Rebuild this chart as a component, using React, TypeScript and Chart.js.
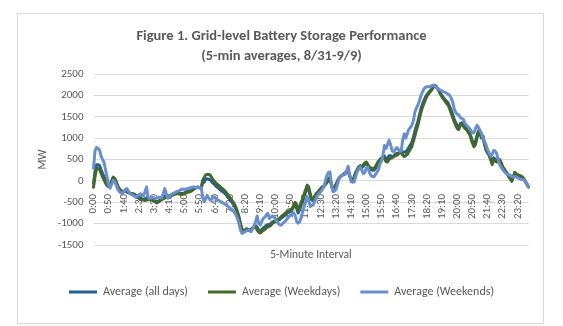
import { useEffect, useRef } from 'react';
import { Chart, registerables } from 'chart.js';

Chart.register(...registerables);

// ---- data ----
const chartTitle = ['Figure 1. Grid-level Battery Storage Performance', '(5-min averages, 8/31-9/9)'];
const xAxisTitle = '5-Minute Interval';
const yAxisTitle = 'MW';
const seriesNames = ['Average (all days)', 'Average (Weekdays)', 'Average (Weekends)'];

// 288 five-minute intervals, 0:00 ... 23:55
const intervals: string[] = Array.from({ length: 288 }, (_, i) =>
  `${Math.floor(i / 12)}:${String((i % 12) * 5).padStart(2, '0')}`
);
const labelEvery = 10; // a tick label every 50 minutes

const yMin = -1500;
const yMax = 2500;
const yStep = 500;

const allDays = [
  -60, 220, 380, 380, 360, 260, 170, 100, 0, -70,
  -130, -110, -20, 70, 40, -40, -140, -190, -230, -250,
  -250, -230, -240, -270, -290, -300, -310, -320, -350, -380,
  -390, -400, -420, -430, -420, -390, -430, -430, -430, -450,
  -460, -480, -490, -470, -450, -430, -400, -360, -370, -380,
  -360, -340, -320, -310, -300, -290, -290, -290, -300, -290,
  -280, -260, -250, -240, -230, -210, -190, -170, -150, -150,
  -160, -160, -60, -30, 30, 50, 40, 20, -20, -60,
  -90, -130, -160, -190, -220, -250, -270, -310, -350, -390,
  -440, -480, -530, -590, -660, -750, -880, -1030, -1140, -1180,
  -1160, -1130, -1140, -1160, -1140, -1100, -1080, -1050, -1080, -1160,
  -1180, -1140, -1100, -1080, -1040, -1020, -1020, -1000, -960, -950,
  -940, -930, -920, -900, -870, -840, -810, -780, -750, -730,
  -700, -680, -610, -560, -640, -750, -670, -570, -480, -360,
  -260, -160, -200, -360, -450, -460, -380, -320, -270, -230,
  -190, -150, -120, -70, -10, 40, 90, -100, -210, -170,
  -100, -20, 60, 100, 130, 150, 180, 220, 240, 130,
  10, -20, 80, 180, 250, 320, 350, 310, 340, 380,
  410, 370, 300, 270, 250, 250, 290, 360, 420, 480,
  520, 570, 580, 510, 520, 590, 590, 570, 580, 620,
  640, 650, 680, 670, 670, 680, 670, 720, 780, 840,
  900, 1020, 1160, 1280, 1390, 1530, 1680, 1790, 1880, 1960,
  2020, 2060, 2110, 2140, 2190, 2230, 2210, 2160, 2110, 2040,
  1990, 1940, 1900, 1860, 1820, 1740, 1650, 1550, 1440, 1360,
  1290, 1270, 1340, 1360, 1310, 1250, 1220, 1170, 1130, 1040,
  930, 870, 920, 1060, 1170, 1120, 1020, 1040, 860, 740,
  670, 610, 520, 430, 540, 510, 480, 470, 480, 400,
  320, 270, 210, 170, 110, 60, 10, 100, 180, 150,
  130, 120, 100, 80, 40, -20, -80, -140,
];

const weekdays = [
  -150, 100, 280, 290, 270, 180, 90, 20, -60, -110,
  -140, -100, 0, 90, 60, -20, -120, -180, -220, -240,
  -250, -240, -260, -280, -290, -300, -300, -310, -340, -380,
  -410, -430, -440, -450, -460, -450, -440, -430, -440, -460,
  -480, -500, -510, -490, -460, -440, -420, -400, -390, -370,
  -360, -350, -330, -320, -310, -300, -300, -310, -320, -310,
  -300, -280, -270, -260, -250, -230, -200, -170, -150, -150,
  -160, -160, 10, 80, 140, 150, 150, 135, 80, 20,
  -20, -60, -90, -120, -150, -180, -210, -250, -290, -340,
  -390, -440, -490, -550, -620, -720, -850, -1000, -1120, -1170,
  -1150, -1120, -1140, -1160, -1130, -1100, -1090, -1080, -1150, -1200,
  -1220, -1190, -1160, -1140, -1100, -1080, -1060, -1040, -1000, -970,
  -950, -920, -900, -870, -830, -800, -770, -740, -720, -700,
  -680, -650, -580, -500, -560, -690, -600, -500, -420, -300,
  -200, -100, -140, -300, -420, -440, -350, -300, -260, -220,
  -170, -140, -120, -90, -40, 0, 60, -100, -200, -150,
  -80, 0, 60, 100, 130, 150, 190, 210, 220, 120,
  20, -20, 100, 200, 260, 330, 350, 330, 380, 420,
  440, 380, 330, 300, 290, 290, 330, 400, 460, 500,
  540, 560, 520, 450, 440, 500, 530, 540, 560, 590,
  600, 620, 670, 660, 600, 570, 590, 620, 680, 740,
  800, 920, 1050, 1180, 1300, 1450, 1600, 1720, 1810, 1900,
  1980, 2030, 2080, 2120, 2180, 2230, 2210, 2160, 2100, 2020,
  1960, 1910, 1860, 1810, 1770, 1680, 1580, 1480, 1380, 1300,
  1220, 1200, 1300, 1330, 1280, 1230, 1200, 1150, 1100, 1000,
  880, 800, 850, 1000, 1150, 1100, 1000, 1050, 850, 720,
  650, 600, 500, 380, 500, 460, 440, 460, 500, 420,
  330, 280, 220, 170, 100, 40, -10, 100, 200, 160,
  140, 130, 110, 90, 40, -20, -80, -140,
];

const weekends = [
  300, 700, 780, 760, 720, 580, 500, 430, 250, 80,
  -100, -170, -80, 10, -20, -100, -200, -250, -280, -300,
  -250, -200, -180, -240, -300, -320, -340, -360, -380, -360,
  -320, -300, -320, -350, -250, -140, -380, -410, -400, -390,
  -400, -410, -400, -380, -390, -400, -300, -180, -300, -400,
  -360, -320, -300, -290, -270, -250, -240, -220, -200, -190,
  -200, -190, -180, -170, -160, -150, -140, -150, -160, -160,
  -150, -160, -350, -490, -420, -340, -400, -450, -420, -380,
  -380, -420, -450, -460, -490, -510, -530, -550, -580, -600,
  -640, -660, -690, -740, -800, -880, -1000, -1150, -1230, -1210,
  -1190, -1170, -1150, -1170, -1190, -1120, -1040, -950, -820, -1000,
  -1030, -950, -880, -850, -800, -760, -880, -850, -820, -850,
  -880, -950, -1000, -1030, -1030, -990, -960, -920, -880, -840,
  -800, -780, -750, -800, -950, -990, -960, -850, -720, -600,
  -500, -380, -450, -600, -580, -560, -480, -400, -330, -290,
  -250, -200, -140, 0, 130, 200, 210, -100, -250, -240,
  -200, -80, 50, 100, 130, 140, 150, 250, 340, 150,
  -20, -30, -20, 100, 210, 280, 330, 250, 170, 200,
  300, 320, 200, 130, 100, 94, 150, 200, 260, 400,
  460, 600, 830, 760, 850, 950, 850, 700, 680, 720,
  780, 750, 700, 700, 950, 1100, 1000, 1100, 1200, 1240,
  1300, 1400, 1600, 1700, 1770, 1870, 1990, 2080, 2150, 2190,
  2200, 2200, 2210, 2220, 2240, 2220, 2190, 2160, 2140, 2120,
  2100, 2083, 2070, 2050, 2030, 2000, 1930, 1850, 1680, 1600,
  1560, 1540, 1480, 1460, 1440, 1350, 1310, 1270, 1230, 1180,
  1120, 1130, 1220, 1300, 1250, 1180, 1110, 1000, 920, 840,
  730, 650, 580, 620, 710, 700, 640, 500, 380, 320,
  260, 220, 180, 160, 140, 130, 100, 90, 100, 90,
  70, 55, 40, 30, 20, -20, -70, -140,
];

const seriesColors = ['#255E91', '#43682B', '#698ED0'];

export default function App() {
  const canvasRef = useRef<HTMLCanvasElement | null>(null);

  useEffect(() => {
    const canvas = canvasRef.current;
    if (!canvas) return;
    const family = 'Carlito, Lato, "Liberation Sans", sans-serif';
    const textColor = '#595959';

    const chart = new Chart(canvas, {
      type: 'line',
      data: {
        labels: intervals,
        datasets: [
          { label: seriesNames[0], data: allDays, borderColor: seriesColors[0], backgroundColor: seriesColors[0], order: 3 },
          { label: seriesNames[1], data: weekdays, borderColor: seriesColors[1], backgroundColor: seriesColors[1], order: 2 },
          { label: seriesNames[2], data: weekends, borderColor: seriesColors[2], backgroundColor: seriesColors[2], order: 1 },
        ],
      },
      options: {
        animation: false,
        responsive: false,
        maintainAspectRatio: false,
        devicePixelRatio: 1,
        layout: { padding: { left: 17, right: 17, top: 26, bottom: 18 } },
        elements: {
          line: { borderWidth: 3, tension: 0, borderJoinStyle: 'round', borderCapStyle: 'round', fill: false },
          point: { radius: 0, hoverRadius: 0 },
        },
        plugins: {
          title: {
            display: true,
            text: chartTitle,
            color: textColor,
            font: { family, size: 14.5, weight: 'bold', lineHeight: 20 / 14.5 },
            padding: { top: 0, bottom: 8 },
          },
          legend: {
            position: 'bottom',
            labels: {
              boxWidth: 28,
              boxHeight: 3,
              padding: 20,
              color: textColor,
              font: { family, size: 12 },
              sort: (a: any, b: any) => a.datasetIndex - b.datasetIndex,
              generateLabels: (c: any) =>
                Chart.defaults.plugins.legend.labels.generateLabels(c).map((it: any) => ({ ...it, lineWidth: 0 })),
            },
          },
          tooltip: { enabled: false },
        },
        scales: {
          x: {
            type: 'category',
            offset: false,
            grid: { display: false },
            border: { display: false },
            ticks: { display: false },
            title: {
              display: true,
              text: xAxisTitle,
              color: textColor,
              font: { family, size: 11.5 },
              padding: { top: 0, bottom: 4 },
            },
            afterFit: (s: any) => {
              s.height = 21;
              s.paddingRight = 34.5;
            },
          },
          xLabels: {
            type: 'category',
            axis: 'x',
            position: { y: 0 },
            offset: false,
            grid: { display: false },
            border: { display: false },
            ticks: {
              autoSkip: false,
              minRotation: 90,
              maxRotation: 90,
              padding: 5,
              color: textColor,
              font: { family, size: 11 },
              callback: (_v: any, i: number) => (i % labelEvery === 0 ? intervals[i] : ''),
            },
            afterFit: (s: any) => {
              s.height = 0;
            },
          },
          y: {
            min: yMin,
            max: yMax,
            grid: { color: '#D9D9D9', drawTicks: false, lineWidth: 1 },
            border: { display: false },
            ticks: {
              stepSize: yStep,
              padding: 10,
              color: textColor,
              font: { family, size: 11 },
              callback: (v: any) => String(v),
            },
            title: {
              display: true,
              text: yAxisTitle,
              color: textColor,
              font: { family, size: 11.5 },
              padding: { top: 19, bottom: 0 },
            },
            afterFit: (s: any) => {
              s.width = 76.5;
            },
          },
        },
      } as any,
    });
    return () => chart.destroy();
  }, []);

  return (
    <div style={{ position: 'fixed', left: 0, top: 0, width: 563, height: 326, background: '#ffffff' }}>
      <div
        style={{
          position: 'absolute',
          left: 17,
          top: 13,
          width: 525,
          height: 309,
          border: '1px solid #D9D9D9',
          boxSizing: 'content-box',
        }}
      />
      <canvas ref={canvasRef} width={563} height={326} style={{ position: 'absolute', left: 0, top: 0, width: 563, height: 326 }} />
    </div>
  );
}
